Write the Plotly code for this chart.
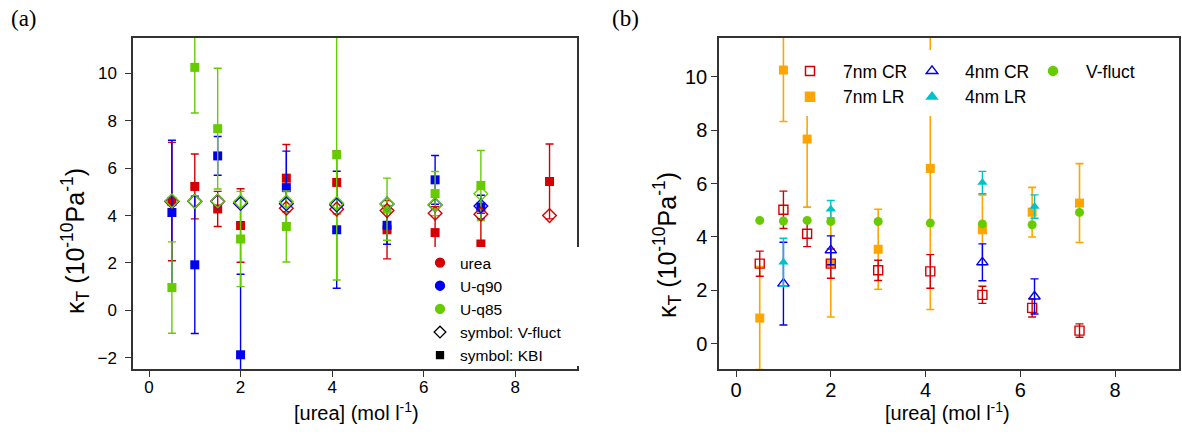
import plotly.graph_objects as go

# ---------------- data ----------------
conc = [0.5, 1.0, 1.5, 2.0, 3.0, 4.1, 5.2, 6.25, 7.25]
conc_urea = [0.5, 1.0, 1.5, 2.0, 3.0, 4.1, 5.2, 6.25, 7.25, 8.75]
conc_4nm = [1.0, 2.0, 5.2, 6.3]

urea_kbi = [4.59, 5.23, 4.28, 3.58, 5.58, 5.40, 3.40, 3.28, 2.80, 5.44]
urea_kbi_err = [2.50, 1.37, 0.74, 1.55, 1.42, 1.33, 1.23, 1.10, 1.30, 1.58]
urea_vf = [4.59, 4.60, 4.60, 4.52, 4.31, 4.27, 4.21, 4.10, 4.06, 4.00]

q90_kbi = [4.13, 1.92, 6.52, -1.88, 5.18, 3.40, 3.59, 5.51, 4.36]
q90_kbi_err = [3.05, 2.90, 0.82, 3.40, 1.54, 2.47, 0.80, 1.03, 0.50]
q90_vf = [4.60, 4.60, 4.60, 4.52, 4.50, 4.45, 4.49, 4.45, 4.40]

q85_kbi = [0.96, 10.26, 7.67, 3.01, 3.54, 6.57, 4.27, 4.93, 5.27]
q85_kbi_err = [1.93, 1.93, 2.55, 2.01, 1.50, 5.29, 1.31, 0.93, 1.48]
q85_vf = [4.62, 4.60, 4.62, 4.58, 4.58, 4.52, 4.49, 4.46, 4.92]

cr7 = [3.00, 5.02, 4.12, 3.00, 2.75, 2.71, 1.83, 1.34, 0.49]
cr7_err = [0.47, 0.70, 0.48, 0.55, 0.38, 0.63, 0.32, 0.34, 0.25]
lr7 = q85_kbi
lr7_err = q85_kbi_err
cr4 = [2.25, 3.50, 3.05, 1.77]
cr4_err = [1.55, 0.54, 0.69, 0.66]
lr4 = [3.05, 5.04, 6.04, 5.14]
lr4_err = [0.90, 0.33, 0.42, 0.44]
vfluct = q85_vf

x_ticks = [0, 2, 4, 6, 8]
ya_ticks = [-2, 0, 2, 4, 6, 8, 10]
yb_ticks = [0, 2, 4, 6, 8, 10]

# ---------------- style ----------------
RED = "#d40000"
BLUE = "#0000f0"
GREEN = "#66cc00"
ORANGE = "#ffa500"
CYAN = "#00c2cc"
FONT = "Liberation Sans"
W, H = 1182, 437

def px(x):
    return x / W

def py(y):
    return 1 - y / H

fig = go.Figure()

def err(vals, color, thick=1.4, width=4):
    return dict(type="data", array=vals, visible=True, color=color, thickness=thick, width=width)

# ---- panel (a) ----
for xs, ys, es, col in [(conc_urea, urea_kbi, urea_kbi_err, RED),
                        (conc, q90_kbi, q90_kbi_err, BLUE),
                        (conc, q85_kbi, q85_kbi_err, GREEN)]:
    fig.add_trace(go.Scatter(x=xs, y=ys, mode="markers", error_y=err(es, col),
                             marker=dict(symbol="square", size=9, color=col, line=dict(width=0)),
                             showlegend=False, xaxis="x", yaxis="y", hoverinfo="skip"))
for xs, ys, col in [(conc_urea, urea_vf, RED), (conc, q90_vf, BLUE), (conc, q85_vf, GREEN)]:
    fig.add_trace(go.Scatter(x=xs, y=ys, mode="markers",
                             marker=dict(symbol="diamond-open", size=10.5, color=col, line=dict(width=1.4)),
                             showlegend=False, xaxis="x", yaxis="y", hoverinfo="skip"))

# legend (a)
for name, sym, col, sz in [("urea", "circle", RED, 9), ("U-q90", "circle", BLUE, 9),
                           ("U-q85", "circle", GREEN, 9),
                           ("symbol: V-fluct", "diamond-open", "black", 9),
                           ("symbol: KBI", "square", "black", 7)]:
    fig.add_trace(go.Scatter(x=[None], y=[None], mode="markers", name=name,
                             marker=dict(symbol=sym, size=sz, color=col,
                                         line=dict(width=1.3, color=col)),
                             legend="legend", xaxis="x", yaxis="y"))

# ---- panel (b) ----
fig.add_trace(go.Scatter(x=conc, y=lr7, mode="markers", error_y=err(lr7_err, ORANGE, 1.6),
                         marker=dict(symbol="square", size=9, color=ORANGE, line=dict(width=0)),
                         showlegend=False, xaxis="x2", yaxis="y2", hoverinfo="skip"))
fig.add_trace(go.Scatter(x=conc, y=cr7, mode="markers", error_y=err(cr7_err, RED),
                         marker=dict(symbol="square-open", size=9, color=RED, line=dict(width=1.4)),
                         showlegend=False, xaxis="x2", yaxis="y2", hoverinfo="skip"))
fig.add_trace(go.Scatter(x=conc_4nm, y=cr4, mode="markers", error_y=err(cr4_err, BLUE),
                         marker=dict(symbol="triangle-up-open", size=10, color=BLUE, line=dict(width=1.4)),
                         showlegend=False, xaxis="x2", yaxis="y2", hoverinfo="skip"))
fig.add_trace(go.Scatter(x=conc_4nm, y=lr4, mode="markers", error_y=err(lr4_err, CYAN),
                         marker=dict(symbol="triangle-up", size=9, color=CYAN, line=dict(width=0)),
                         showlegend=False, xaxis="x2", yaxis="y2", hoverinfo="skip"))
fig.add_trace(go.Scatter(x=conc, y=vfluct, mode="markers",
                         marker=dict(symbol="circle", size=9, color=GREEN, line=dict(width=0)),
                         showlegend=False, xaxis="x2", yaxis="y2", hoverinfo="skip"))

for name, sym, col, sz, lg in [("7nm CR", "square-open", RED, 9, "legend2"),
                               ("7nm LR", "square", ORANGE, 9, "legend2"),
                               ("4nm CR", "triangle-up-open", BLUE, 10, "legend3"),
                               ("4nm LR", "triangle-up", CYAN, 9, "legend3"),
                               ("V-fluct", "circle", GREEN, 9, "legend4")]:
    fig.add_trace(go.Scatter(x=[None], y=[None], mode="markers", name=name,
                             marker=dict(symbol=sym, size=sz, color=col,
                                         line=dict(width=1.5, color=col)),
                             legend=lg, xaxis="x2", yaxis="y2"))

AXC = "#333333"
def xax(dom, tick_size):
    return dict(domain=dom, tickvals=x_ticks, ticks="outside", ticklen=6, tickwidth=1.3,
                tickcolor=AXC, showline=True, linecolor=AXC, linewidth=1.5, mirror=True,
                showgrid=False, zeroline=False, automargin=False, ticklabelstandoff=-4,
                tickfont=dict(family=FONT, size=tick_size, color="black"))

xa = xax([px(133), px(577)], 17); xa["range"] = [-0.35, 9.35]; xa["anchor"] = "y"
xb = xax([px(719), px(1179)], 20); xb["range"] = [-0.36, 9.35]; xb["anchor"] = "y2"
ya = dict(domain=[py(369), py(38)], range=[-2.48, 11.5], tickvals=ya_ticks, ticks="outside", ticklen=6,
          tickwidth=1.3, tickcolor=AXC, showline=True, linecolor=AXC, linewidth=1.5, mirror=True,
          showgrid=False, zeroline=False, automargin=False, anchor="x", ticklabelstandoff=5,
          tickfont=dict(family=FONT, size=17, color="black"))
yb = dict(domain=[py(369), py(38)], range=[-0.95, 11.46], tickvals=yb_ticks, ticks="outside", ticklen=6,
          tickwidth=1.3, tickcolor=AXC, showline=True, linecolor=AXC, linewidth=1.5, mirror=True,
          showgrid=False, zeroline=False, automargin=False, anchor="x2",
          tickfont=dict(family=FONT, size=20, color="black"))

def lg(x, y, size, iw=30):
    return dict(x=px(x), y=py(y), xanchor="left", yanchor="top", bgcolor="rgba(0,0,0,0)",
                borderwidth=0, itemwidth=iw, font=dict(family=FONT, size=size, color="black"),
                tracegroupgap=0)

def ann(text, x, y, size, family=FONT, angle=0):
    return dict(text=text, x=px(x), y=py(y), xref="paper", yref="paper", showarrow=False,
                xanchor="center", yanchor="middle", textangle=angle,
                font=dict(family=family, size=size, color="black"))

YT = "κ<sub>T</sub> (10<sup>-10</sup>Pa<sup>-1</sup>)"
XT = "[urea] (mol l<sup>-1</sup>)"

fig.update_layout(
    width=W, height=H, margin=dict(l=0, r=0, t=0, b=0), template="none",
    paper_bgcolor="white", plot_bgcolor="white",
    font=dict(family=FONT, color="black"),
    xaxis=xa, yaxis=ya, xaxis2=xb, yaxis2=yb,
    legend=lg(420, 246, 15.5),
    legend2=lg(777, 53, 17.5, 56),
    legend3=lg(899, 53, 17.5, 56),
    legend4=lg(1020, 53, 17.5, 56),
    shapes=[
        dict(type="rect", xref="paper", yref="paper", x0=px(415), x1=px(588), y0=py(366), y1=py(247),
             fillcolor="white", line=dict(width=0), layer="above"),
        dict(type="rect", xref="paper", yref="paper", x0=px(795), x1=px(1150), y0=py(116), y1=py(50),
             fillcolor="white", line=dict(width=0), layer="above"),
    ],
    annotations=[
        ann("(a)", 24, 19, 23, "Liberation Serif"),
        ann("(b)", 625, 19, 23, "Liberation Serif"),
        ann(YT, 75, 241, 25, angle=-90),
        ann(YT, 667, 245, 25, angle=-90),
        ann(XT, 356, 411, 20),
        ann(XT, 947, 411, 20),
    ],
)

fig.write_html("out.html", config={"displayModeBar": False},
               post_script="document.body.style.margin='0px';document.documentElement.style.overflow='hidden';")
